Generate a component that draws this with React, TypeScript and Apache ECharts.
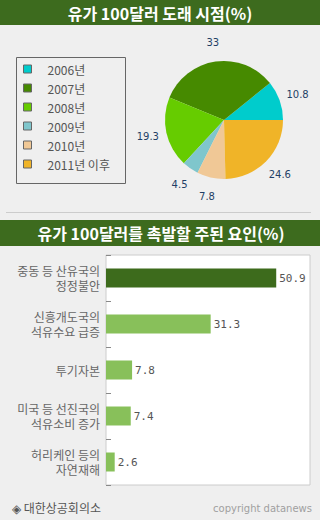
import React, { useEffect, useRef } from "react";
import * as echarts from "echarts";

const pieNames = ["2006년", "2007년", "2008년", "2009년", "2010년", "2011년 이후"];
const pieValues = [10.8, 33, 19.3, 4.5, 7.8, 24.6];
const pieColors = ["#00cccc", "#468a00", "#66cc00", "#7fc6cc", "#f0c896", "#f0b428"];

const barCategories = [
  "중동 등 산유국의\n정정불안",
  "신흥개도국의\n석유수요 급증",
  "투기자본",
  "미국 등 선진국의\n석유소비 증가",
  "허리케인 등의\n자연재해",
];
const barValues = [50.9, 31.3, 7.8, 7.4, 2.6];
const barColors = ["#3d6b1c", "#88c05a", "#88c05a", "#88c05a", "#88c05a"];

const title1 = "유가 100달러 도래 시점(%)";
const title2 = "유가 100달러를 촉발할 주된 요인(%)";
const sourceText = "◈ 대한상공회의소";
const copyrightText = "copyright datanews";

const KR = "'Noto Sans CJK KR', 'Noto Sans', sans-serif";

export default function App() {
  const ref = useRef<HTMLDivElement>(null);
  useEffect(() => {
    if (!ref.current) return;
    const chart = echarts.init(ref.current, undefined, { renderer: "svg" });
    const pieData = pieNames.map((n, i) => ({
      name: n,
      value: pieValues[i],
      itemStyle: { color: pieColors[i] },
    }));
    chart.setOption({
      animation: false,
      backgroundColor: "#efefef",
      textStyle: { fontFamily: KR },
      graphic: [
        { type: "rect", shape: { x: 0, y: 0, width: 320, height: 25 }, style: { fill: "#3d6b1e" }, silent: true },
        {
          type: "text", x: 160, y: 13,
          style: { text: title1, fill: "#fff", font: `bold 16px ${KR}`, align: "center", verticalAlign: "middle" },
          silent: true,
        },
        { type: "rect", shape: { x: 16.5, y: 57.5, width: 109, height: 126 }, style: { fill: "none", stroke: "#666", lineWidth: 1 }, silent: true },
        { type: "line", shape: { x1: 6, y1: 212.5, x2: 311, y2: 212.5 }, style: { stroke: "#cccccc", lineWidth: 1 }, silent: true },
        { type: "rect", shape: { x: 0, y: 220, width: 320, height: 26 }, style: { fill: "#3d6b1e" }, silent: true },
        {
          type: "text", x: 161, y: 233,
          style: { text: title2, fill: "#fff", font: `bold 16px ${KR}`, align: "center", verticalAlign: "middle" },
          silent: true,
        },
        {
          type: "text", x: 12, y: 507,
          style: { text: sourceText, fill: "#555", font: `12px ${KR}`, align: "left", verticalAlign: "middle" },
          silent: true,
        },
        {
          type: "text", x: 312, y: 508,
          style: { text: copyrightText, fill: "#a0a0a0", font: `10px 'DejaVu Sans', sans-serif`, align: "right", verticalAlign: "middle" },
          silent: true,
        },
      ],
      legend: {
        orient: "vertical",
        left: 23,
        top: 62,
        padding: 0,
        itemWidth: 8,
        itemHeight: 8,
        itemGap: 5,
        icon: "rect",
        data: pieNames,
        selectedMode: false,
        itemStyle: { borderColor: "#666", borderWidth: 1 },
        textStyle: { fontSize: 12, lineHeight: 14, color: "#555", fontFamily: KR, padding: [0, 0, 0, 11] },
      },
      grid: {
        left: 106,
        right: 10,
        top: 255,
        bottom: 35,
        show: true,
        backgroundColor: "#ffffff",
        borderColor: "#cccccc",
        borderWidth: 1,
        containLabel: false,
      },
      xAxis: {
        type: "value",
        min: 0,
        max: 61,
        show: false,
        splitLine: { show: false },
      },
      yAxis: {
        type: "category",
        inverse: true,
        data: barCategories,
        axisLine: { show: false },
        axisTick: { show: true, inside: true, length: 5, lineStyle: { color: "#888" } },
        axisLabel: { color: "#666", fontSize: 12, lineHeight: 15, margin: 6, fontFamily: KR },
        splitLine: { show: false },
      },
      series: [
        {
          type: "pie",
          center: [224, 120],
          radius: 59,
          startAngle: 0,
          clockwise: false,
          avoidLabelOverlap: false,
          label: { show: false },
          labelLine: { show: false },
          data: pieData,
          silent: true,
        },
        {
          type: "pie",
          center: [224, 120],
          radius: [59, 91],
          startAngle: 0,
          clockwise: false,
          avoidLabelOverlap: false,
          legendHoverLink: false,
          silent: true,
          itemStyle: { color: "rgba(0,0,0,0)" },
          label: {
            show: true,
            position: "inside",
            formatter: "{c}",
            color: "#1f3f66",
            fontSize: 10,
            fontFamily: "'DejaVu Sans', sans-serif",
          },
          labelLine: { show: false },
          data: pieNames.map((n, i) => ({ name: n, value: pieValues[i] })),
        },
        {
          type: "bar",
          barWidth: 19,
          data: barValues.map((v, i) => ({ value: v, itemStyle: { color: barColors[i] } })),
          label: {
            show: true,
            position: "right",
            distance: 3,
            color: "#555",
            fontSize: 11,
            fontFamily: "'DejaVu Sans Mono', monospace",
          },
          silent: true,
        },
      ],
    });
    return () => chart.dispose();
  }, []);
  return (
    <div
      ref={ref}
      style={{ position: "absolute", left: 0, top: 0, width: 320, height: 520 }}
    />
  );
}
